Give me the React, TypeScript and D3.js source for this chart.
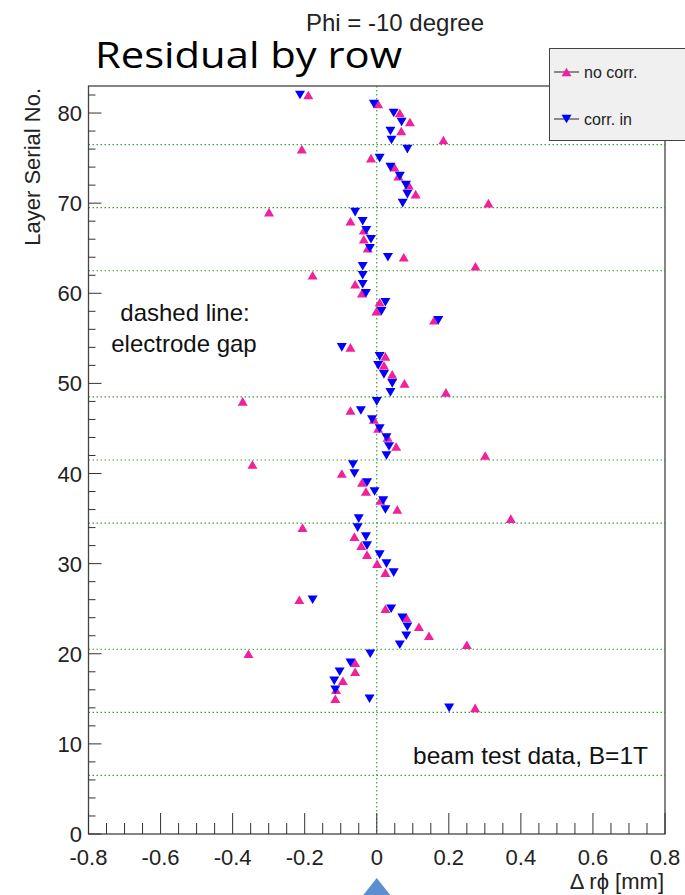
import React from 'react';
import * as d3 from 'd3';

const layers = [82, 81, 80, 79, 78, 77, 76, 75, 74, 73, 72, 71, 70, 69, 68, 67, 66, 65, 64, 63, 62, 61, 60, 59, 58, 57,
  54, 53, 52, 51, 50, 49, 48, 47, 46, 45, 44, 43, 42, 41, 40, 39, 38, 37, 36, 35, 34, 33, 32, 31, 30, 29,
  26, 25, 24, 23, 22, 21, 20, 19, 18, 17, 16, 15, 14];
const noCorr = [-0.19, 0.004, 0.064, 0.092, 0.068, 0.185, -0.208, -0.016, 0.049, 0.06, 0.089, 0.108, 0.31, -0.299, -0.073, -0.036, -0.036, -0.025, 0.075, 0.274, -0.178, -0.06, -0.041, 0.008, -0.001, 0.159,
  -0.073, 0.024, 0.02, 0.043, 0.077, 0.192, -0.372, -0.073, -0.008, 0.004, 0.03, 0.054, 0.301, -0.345, -0.097, -0.041, -0.03, 0.01, 0.057, 0.372, -0.206, -0.062, -0.043, -0.027, 0.001, 0.024,
  -0.215, 0.024, 0.083, 0.117, 0.145, 0.25, -0.356, -0.06, -0.06, -0.094, -0.113, -0.115, 0.273];
const corrIn = [-0.213, -0.008, 0.047, 0.069, 0.038, 0.041, 0.085, 0.008, 0.038, 0.064, 0.081, 0.085, 0.072, -0.06, -0.039, -0.029, -0.016, -0.019, 0.031, -0.039, -0.039, -0.039, -0.03, 0.024, 0.013, 0.171,
  -0.097, 0.008, 0.004, 0.02, 0.043, 0.038, 0.0, -0.044, -0.013, 0.008, 0.027, 0.034, 0.027, -0.066, -0.062, -0.027, -0.006, 0.018, 0.024, -0.05, -0.053, -0.03, -0.027, 0.008, 0.027, 0.047,
  -0.178, 0.04, 0.071, 0.085, 0.082, 0.064, -0.018, -0.073, -0.103, -0.118, -0.115, -0.02, 0.201];
const gapLines = [6.5, 13.5, 20.5, 34.5, 41.5, 48.5, 62.5, 69.5, 76.5];
const xTickLabels = ['-0.8', '-0.6', '-0.4', '-0.2', '0', '0.2', '0.4', '0.6', '0.8'];
const yTickLabels = ['0', '10', '20', '30', '40', '50', '60', '70', '80'];

const PINK = '#f0219a';
const BLUE = '#0000ff';
const GREEN = '#3c9f3c';
const FONT = '"Liberation Sans", Arial, Helvetica, sans-serif';

const x = d3.scaleLinear().domain([-0.8, 0.8]).range([88.5, 665]);
const y = d3.scaleLinear().domain([0, 83]).range([834, 86]);

function up(cx: number, cy: number) {
  return `M${cx - 5},${cy + 4.3}L${cx + 5},${cy + 4.3}L${cx},${cy - 4.3}Z`;
}
function down(cx: number, cy: number) {
  return `M${cx - 5},${cy - 4.3}L${cx + 5},${cy - 4.3}L${cx},${cy + 4.3}Z`;
}

export default function App() {
  const [x0, x1] = x.range();
  const [yb, yt] = y.range();
  const xMinor = d3.range(0, 33).map((i) => -0.8 + i * 0.05);
  const yMinor = d3.range(0, 83, 2);
  return (
    <svg width={685} height={895} style={{ position: 'absolute', left: 0, top: 0, background: '#fff' }} fontFamily={FONT}>
      <rect x={0} y={0} width={685} height={895} fill="#fff" />
      {/* gap lines */}
      {gapLines.map((g) => (
        <line key={g} x1={x0} x2={x1} y1={y(g)} y2={y(g)} stroke={GREEN} strokeWidth={1.2} strokeDasharray="1.5,2.5" />
      ))}
      <line x1={x(0)} x2={x(0)} y1={yt} y2={yb} stroke={GREEN} strokeWidth={1.2} strokeDasharray="1.5,2.5" />
      {/* frame */}
      <rect x={x0} y={yt} width={x1 - x0} height={yb - yt} fill="none" stroke="#444" strokeWidth={1.3} />
      {/* x ticks */}
      {xMinor.map((v, i) => (
        <line key={'xm' + i} x1={x(v)} x2={x(v)} y1={yb} y2={yb - (i % 4 === 0 ? 21 : 11)} stroke="#333" strokeWidth={1} />
      ))}
      {xTickLabels.map((t) => (
        <text key={'xl' + t} x={x(+t)} y={865} fontSize={22} textAnchor="middle" fill="#222">{t}</text>
      ))}
      {/* y ticks */}
      {yMinor.map((v) => (
        <line key={'ym' + v} x1={x0} x2={x0 + (v % 10 === 0 ? 13 : 7)} y1={y(v)} y2={y(v)} stroke="#333" strokeWidth={1} />
      ))}
      {yTickLabels.map((t) => (
        <text key={'yl' + t} x={82} y={y(+t) + 8} fontSize={22} textAnchor="end" fill="#222">{t}</text>
      ))}
      {/* axis titles */}
      <text x={664} y={889} fontSize={22} textAnchor="end" fill="#222">Δ rϕ [mm]</text>
      <text transform={`translate(40,88) rotate(-90)`} fontSize={22} textAnchor="end" fill="#222">Layer Serial No.</text>
      {/* data */}
      {layers.map((l, i) => (
        <path key={'p' + l} d={up(x(noCorr[i]), y(l))} fill={PINK} />
      ))}
      {layers.map((l, i) => (
        <path key={'b' + l} d={down(x(corrIn[i]), y(l))} fill={BLUE} />
      ))}
      {/* annotations */}
      <text x={185} y={321} fontSize={24} textAnchor="middle" fill="#111">dashed line:</text>
      <text x={184} y={352} fontSize={24} textAnchor="middle" fill="#111">electrode gap</text>
      <text x={648} y={764} fontSize={24.5} textAnchor="end" fill="#111">beam test data, B=1T</text>
      {/* titles */}
      <text x={395} y={30.5} fontSize={24} textAnchor="middle" fill="#222">Phi = -10 degree</text>
      <text x={95} y={68} fontSize={37} fontFamily='"Open Sans", Lato, sans-serif' textLength={307} lengthAdjust="spacingAndGlyphs" fill="#000">Residual by row</text>
      {/* legend */}
      <rect x={549.5} y={48.5} width={140} height={92} fill="#f0f0f0" stroke="#444" strokeWidth={1} />
      <line x1={554} x2={579} y1={72} y2={72} stroke="#222" strokeWidth={1} />
      <path d={up(566.5, 72)} fill={PINK} />
      <text x={584} y={77.5} fontSize={16} fill="#222">no corr.</text>
      <line x1={554} x2={579} y1={119} y2={119} stroke="#222" strokeWidth={1} />
      <path d={down(566.5, 119)} fill={BLUE} />
      <text x={584} y={124.5} fontSize={16} fill="#222">corr. in</text>
      {/* arrow marker below axis */}
      <path d={`M${x(0)},878L${x(0) + 15},897L${x(0) - 15},897Z`} fill="#5b8fcf" />
    </svg>
  );
}
